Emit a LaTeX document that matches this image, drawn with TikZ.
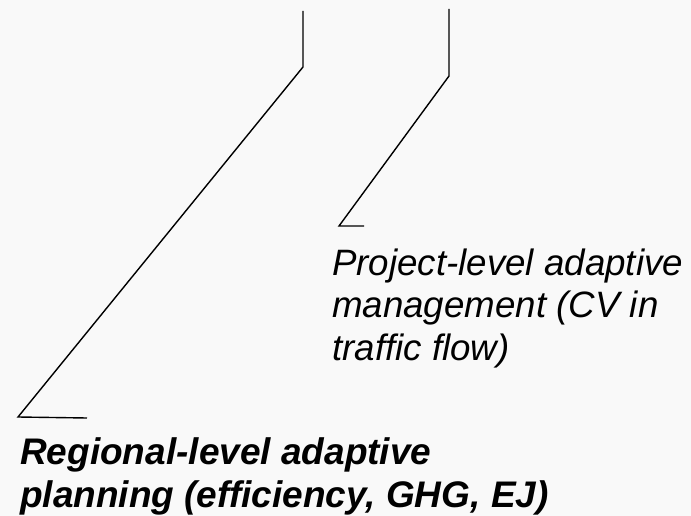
\documentclass[tikz,border=0pt]{standalone}
\usepackage{fontspec}
\setmainfont{Liberation Sans}
\definecolor{pagebg}{RGB}{249,249,249}
\begin{document}
\begin{tikzpicture}[x=1pt,y=-1pt,
  leader/.style={draw=black,line width=1.4pt,line join=miter},
  label/.style={anchor=base west,inner sep=0pt,align=left}]
\fill[pagebg] (0,0) rectangle (691,516);
\useasboundingbox (0,0) rectangle (691,516);

% leader for the regional-level label
\coordinate (rTop) at (303,11);
\coordinate (rBend) at (303,67);
\coordinate (rFoot) at (18,417);
\coordinate (rEnd) at (87,418);
\draw[leader] (rTop) -- (rBend) -- (rFoot) -- (rEnd);

% leader for the project-level label
\coordinate (pTop) at (449,9);
\coordinate (pBend) at (449,76);
\coordinate (pFoot) at (339,226);
\coordinate (pEnd) at (364,226);
\draw[leader] (pTop) -- (pBend) -- (pFoot) -- (pEnd);

% anchors sit on the baseline of each label's last line
\node[label,font=\fontsize{36.7}{42.5}\selectfont\itshape] (project) at (332,360)
  {Project-level adaptive\\management (CV in\\traffic flow)};
\node[label,font=\fontsize{37}{43}\selectfont\bfseries\itshape] (regional) at (20,507)
  {Regional-level adaptive\\planning (efficiency, GHG, EJ)};
\end{tikzpicture}
\end{document}
